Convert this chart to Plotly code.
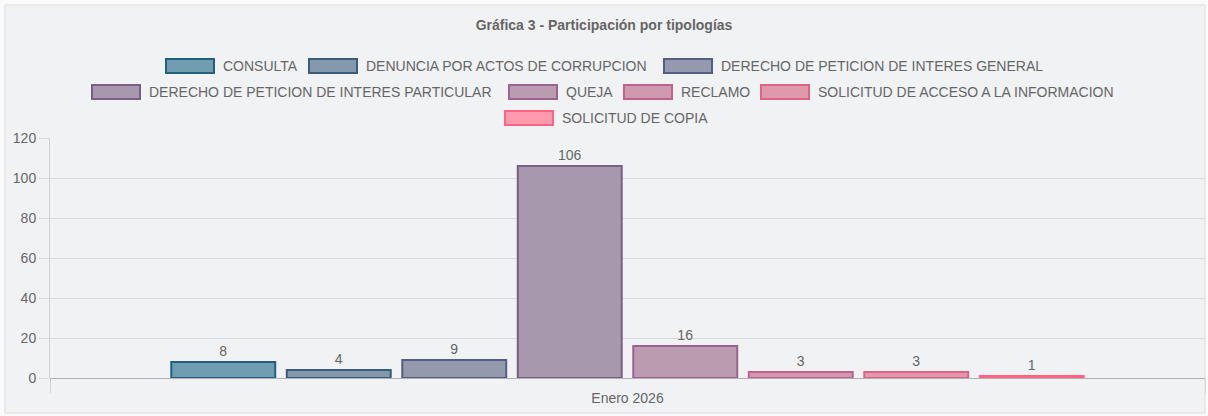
import plotly.graph_objects as go

# ---------------- data ----------------
categories = ["Enero 2026"]
series_names = [
    "CONSULTA",
    "DENUNCIA POR ACTOS DE CORRUPCION",
    "DERECHO DE PETICION DE INTERES GENERAL",
    "DERECHO DE PETICION DE INTERES PARTICULAR",
    "QUEJA",
    "RECLAMO",
    "SOLICITUD DE ACCESO A LA INFORMACION",
    "SOLICITUD DE COPIA",
]
values = [8, 4, 9, 106, 16, 3, 3, 1]
y_ticks = [0, 20, 40, 60, 80, 100, 120]
title_text = "Gráfica 3 - Participación por tipologías"

# ---------------- styles ----------------
border_colors = ["#1f6183", "#3b5c7c", "#535e84", "#775f86", "#9b6392",
                 "#c0628f", "#df6389", "#ff6384"]
fill_colors = ["#719db1", "#8599ac", "#9599ae", "#a898ae", "#bb9bb0",
               "#cf9aae", "#e098ac", "#ff9aae"]

W, H = 1208, 416
ML, MR, MT, MB = 50, 3, 138, 38
PW, PH = W - ML - MR, H - MT - MB

FONT = "Arial, Liberation Sans, sans-serif"
TXT = "#666666"

# legend layout (pixel positions)
legend_row_y = [66, 92, 118]
legend_rows = [0, 0, 0, 1, 1, 1, 1, 2]
legend_box_left = [166, 309, 664, 92, 509, 624, 761, 505]
BOX_W, BOX_H, BOX_GAP = 48, 14, 7


def px_x(px):
    return (px - ML) / PW


def px_y(py):
    return (H - MB - py) / PH


fig = go.Figure()
for name, v, bc, fc in zip(series_names, values, border_colors, fill_colors):
    fig.add_trace(go.Bar(
        name=name, x=categories, y=[v],
        marker=dict(color=fc, line=dict(color=bc, width=2)),
        text=[str(v)], textposition="outside",
        textfont=dict(family=FONT, size=14, color=TXT),
        cliponaxis=False, showlegend=False,
    ))

shapes = [
    dict(type="rect", xref="paper", yref="paper", layer="below",
         x0=px_x(5), x1=px_x(1205), y0=px_y(413), y1=px_y(5),
         fillcolor="#f1f2f4", line=dict(color="#dcdcde", width=1)),
]
annotations = []
for name, row, left, bc, fc in zip(series_names, legend_rows, legend_box_left,
                                   border_colors, fill_colors):
    cy = legend_row_y[row]
    shapes.append(dict(type="rect", xref="paper", yref="paper",
                       x0=px_x(left), x1=px_x(left + BOX_W),
                       y0=px_y(cy + BOX_H / 2), y1=px_y(cy - BOX_H / 2),
                       fillcolor=fc, line=dict(color=bc, width=2)))
    annotations.append(dict(xref="paper", yref="paper",
                            x=px_x(left + BOX_W + BOX_GAP), y=px_y(cy),
                            xanchor="left", yanchor="middle", showarrow=False,
                            text=name, font=dict(family=FONT, size=14, color=TXT)))

fig.update_layout(
    width=W, height=H,
    margin=dict(l=ML, r=MR, t=MT, b=MB),
    paper_bgcolor="#fafafa", plot_bgcolor="rgba(0,0,0,0)",
    barmode="group", bargap=0.2, bargroupgap=0.1,
    showlegend=False,
    title=dict(text="<b>" + title_text + "</b>", x=0.5, xref="container",
               y=1 - 25 / H, yref="container", yanchor="middle",
               font=dict(family=FONT, size=14, color=TXT)),
    shapes=shapes, annotations=annotations,
    font=dict(family=FONT, size=14, color=TXT),
)
fig.update_xaxes(
    type="category", range=[-0.5, 0.5], showgrid=False,
    ticks="outside", tickson="boundaries", ticklen=14, tickcolor="#d4d5d7",
    ticklabelstandoff=10,
    tickfont=dict(family=FONT, size=14, color=TXT),
    showline=False, zeroline=False,
)
fig.update_yaxes(
    range=[0, 120], tickvals=y_ticks, showgrid=True, gridcolor="#dadbdd",
    ticks="outside", ticklen=10, tickcolor="#dadbdd",
    showline=True, linecolor="#d0d1d3", linewidth=1,
    zeroline=True, zerolinecolor="#b0b1b3", zerolinewidth=1,
    tickfont=dict(family=FONT, size=14, color=TXT),
)

fig.write_html("out.html", config={"displayModeBar": False},
               post_script="document.body.style.margin='0';document.body.style.padding='0';")
